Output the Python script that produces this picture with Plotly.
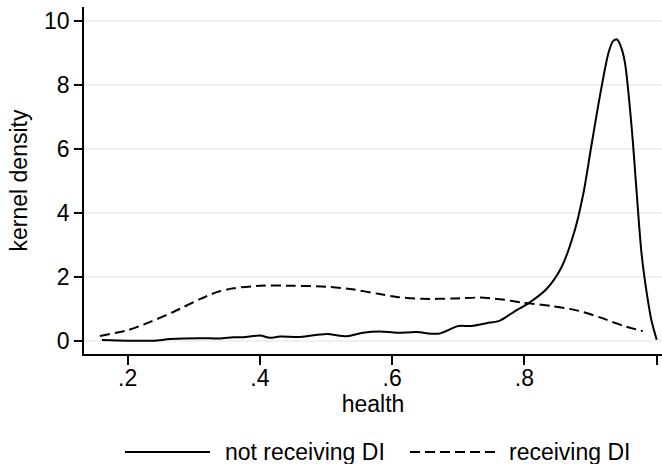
import plotly.graph_objects as go

# Data
not_di_x = [0.161, 0.2, 0.239, 0.264, 0.309, 0.339, 0.36, 0.375, 0.4, 0.415, 0.43, 0.461,
            0.501, 0.531, 0.556, 0.581, 0.607, 0.637, 0.67, 0.70, 0.72, 0.743, 0.763, 0.783,
            0.808, 0.833, 0.856, 0.876, 0.889, 0.901, 0.914, 0.927, 0.934, 0.940, 0.946,
            0.952, 0.962, 0.969, 0.977, 0.985, 0.992, 1.0]
not_di_y = [0.02, 0.0, 0.0, 0.05, 0.08, 0.07, 0.11, 0.11, 0.16, 0.09, 0.13, 0.12,
            0.21, 0.14, 0.25, 0.29, 0.25, 0.27, 0.22, 0.46, 0.46, 0.55, 0.63, 0.89,
            1.2, 1.61, 2.3, 3.45, 4.6, 6.08, 7.65, 9.01, 9.38, 9.43, 9.2,
            8.70, 6.71, 4.83, 2.74, 1.48, 0.64, 0.03]

di_x = [0.158, 0.2, 0.234, 0.269, 0.309, 0.335, 0.36, 0.4, 0.45, 0.501, 0.536, 0.581,
        0.607, 0.647, 0.692, 0.733, 0.763, 0.798, 0.843, 0.879, 0.914, 0.949, 0.979]
di_y = [0.15, 0.33, 0.59, 0.90, 1.30, 1.52, 1.64, 1.72, 1.72, 1.69, 1.62, 1.46,
        1.37, 1.31, 1.32, 1.35, 1.30, 1.19, 1.08, 0.95, 0.73, 0.47, 0.30]

series_names = ["not receiving DI", "receiving DI"]

x_tickvals = [0.2, 0.4, 0.6, 0.8, 1.0]
x_ticktext = [".2", ".4", ".6", ".8", "1"]
y_tickvals = [0, 2, 4, 6, 8, 10]
y_ticktext = ["0", "2", "4", "6", "8", "10"]

FONT = "Liberation Sans, Arial, sans-serif"
FS = 23
DASH = "10px,5px"

fig = go.Figure()
fig.add_trace(go.Scatter(x=not_di_x, y=not_di_y, mode="lines", name=series_names[0],
                         showlegend=False,
                         line=dict(color="black", width=2, shape="spline", smoothing=0.8)))
fig.add_trace(go.Scatter(x=di_x, y=di_y, mode="lines", name=series_names[1],
                         showlegend=False,
                         line=dict(color="black", width=2, dash=DASH,
                                   shape="spline", smoothing=0.8)))

# Stata-style legend below the plot (long line keys)
LEG_Y = -0.2824
legend_keys = [(0.0709, 0.2180, "solid", 0.2405), (0.564, 0.7145, DASH, 0.7318)]
for (x0, x1, dash, tx), name in zip(legend_keys, series_names):
    fig.add_shape(type="line", xref="paper", yref="paper", x0=x0, x1=x1, y0=LEG_Y, y1=LEG_Y,
                  line=dict(color="black", width=2, dash=dash))
    fig.add_annotation(xref="paper", yref="paper", x=tx, y=LEG_Y, text=name,
                       showarrow=False, xanchor="left", yanchor="middle",
                       font=dict(family=FONT, size=FS, color="black"))

fig.update_layout(
    template="none",
    width=662, height=464,
    margin=dict(l=84, r=0, t=7, b=110, autoexpand=False),
    paper_bgcolor="white", plot_bgcolor="white",
    font=dict(family=FONT, size=FS, color="black"),
    showlegend=False,
    xaxis=dict(range=[0.1339, 1.008], tickvals=x_tickvals, ticktext=x_ticktext,
               automargin=False, ticklabelstandoff=-6,
               showgrid=False, zeroline=False, showline=True, linecolor="black", linewidth=1.5,
               ticks="outside", ticklen=9, tickwidth=1.5, tickcolor="black",
               title=dict(text="health", standoff=0, font=dict(size=FS))),
    yaxis=dict(range=[-0.416, 10.448], tickvals=y_tickvals, ticktext=y_ticktext,
               automargin=False,
               showgrid=True, gridcolor="#EAF2F3", gridwidth=1.5, zeroline=False,
               showline=True, linecolor="black", linewidth=1.5,
               ticks="outside", ticklen=8, tickwidth=1.5, tickcolor="black",
               title=dict(text="kernel density", standoff=10, font=dict(size=FS))),
)

fig.write_html("out.html")
